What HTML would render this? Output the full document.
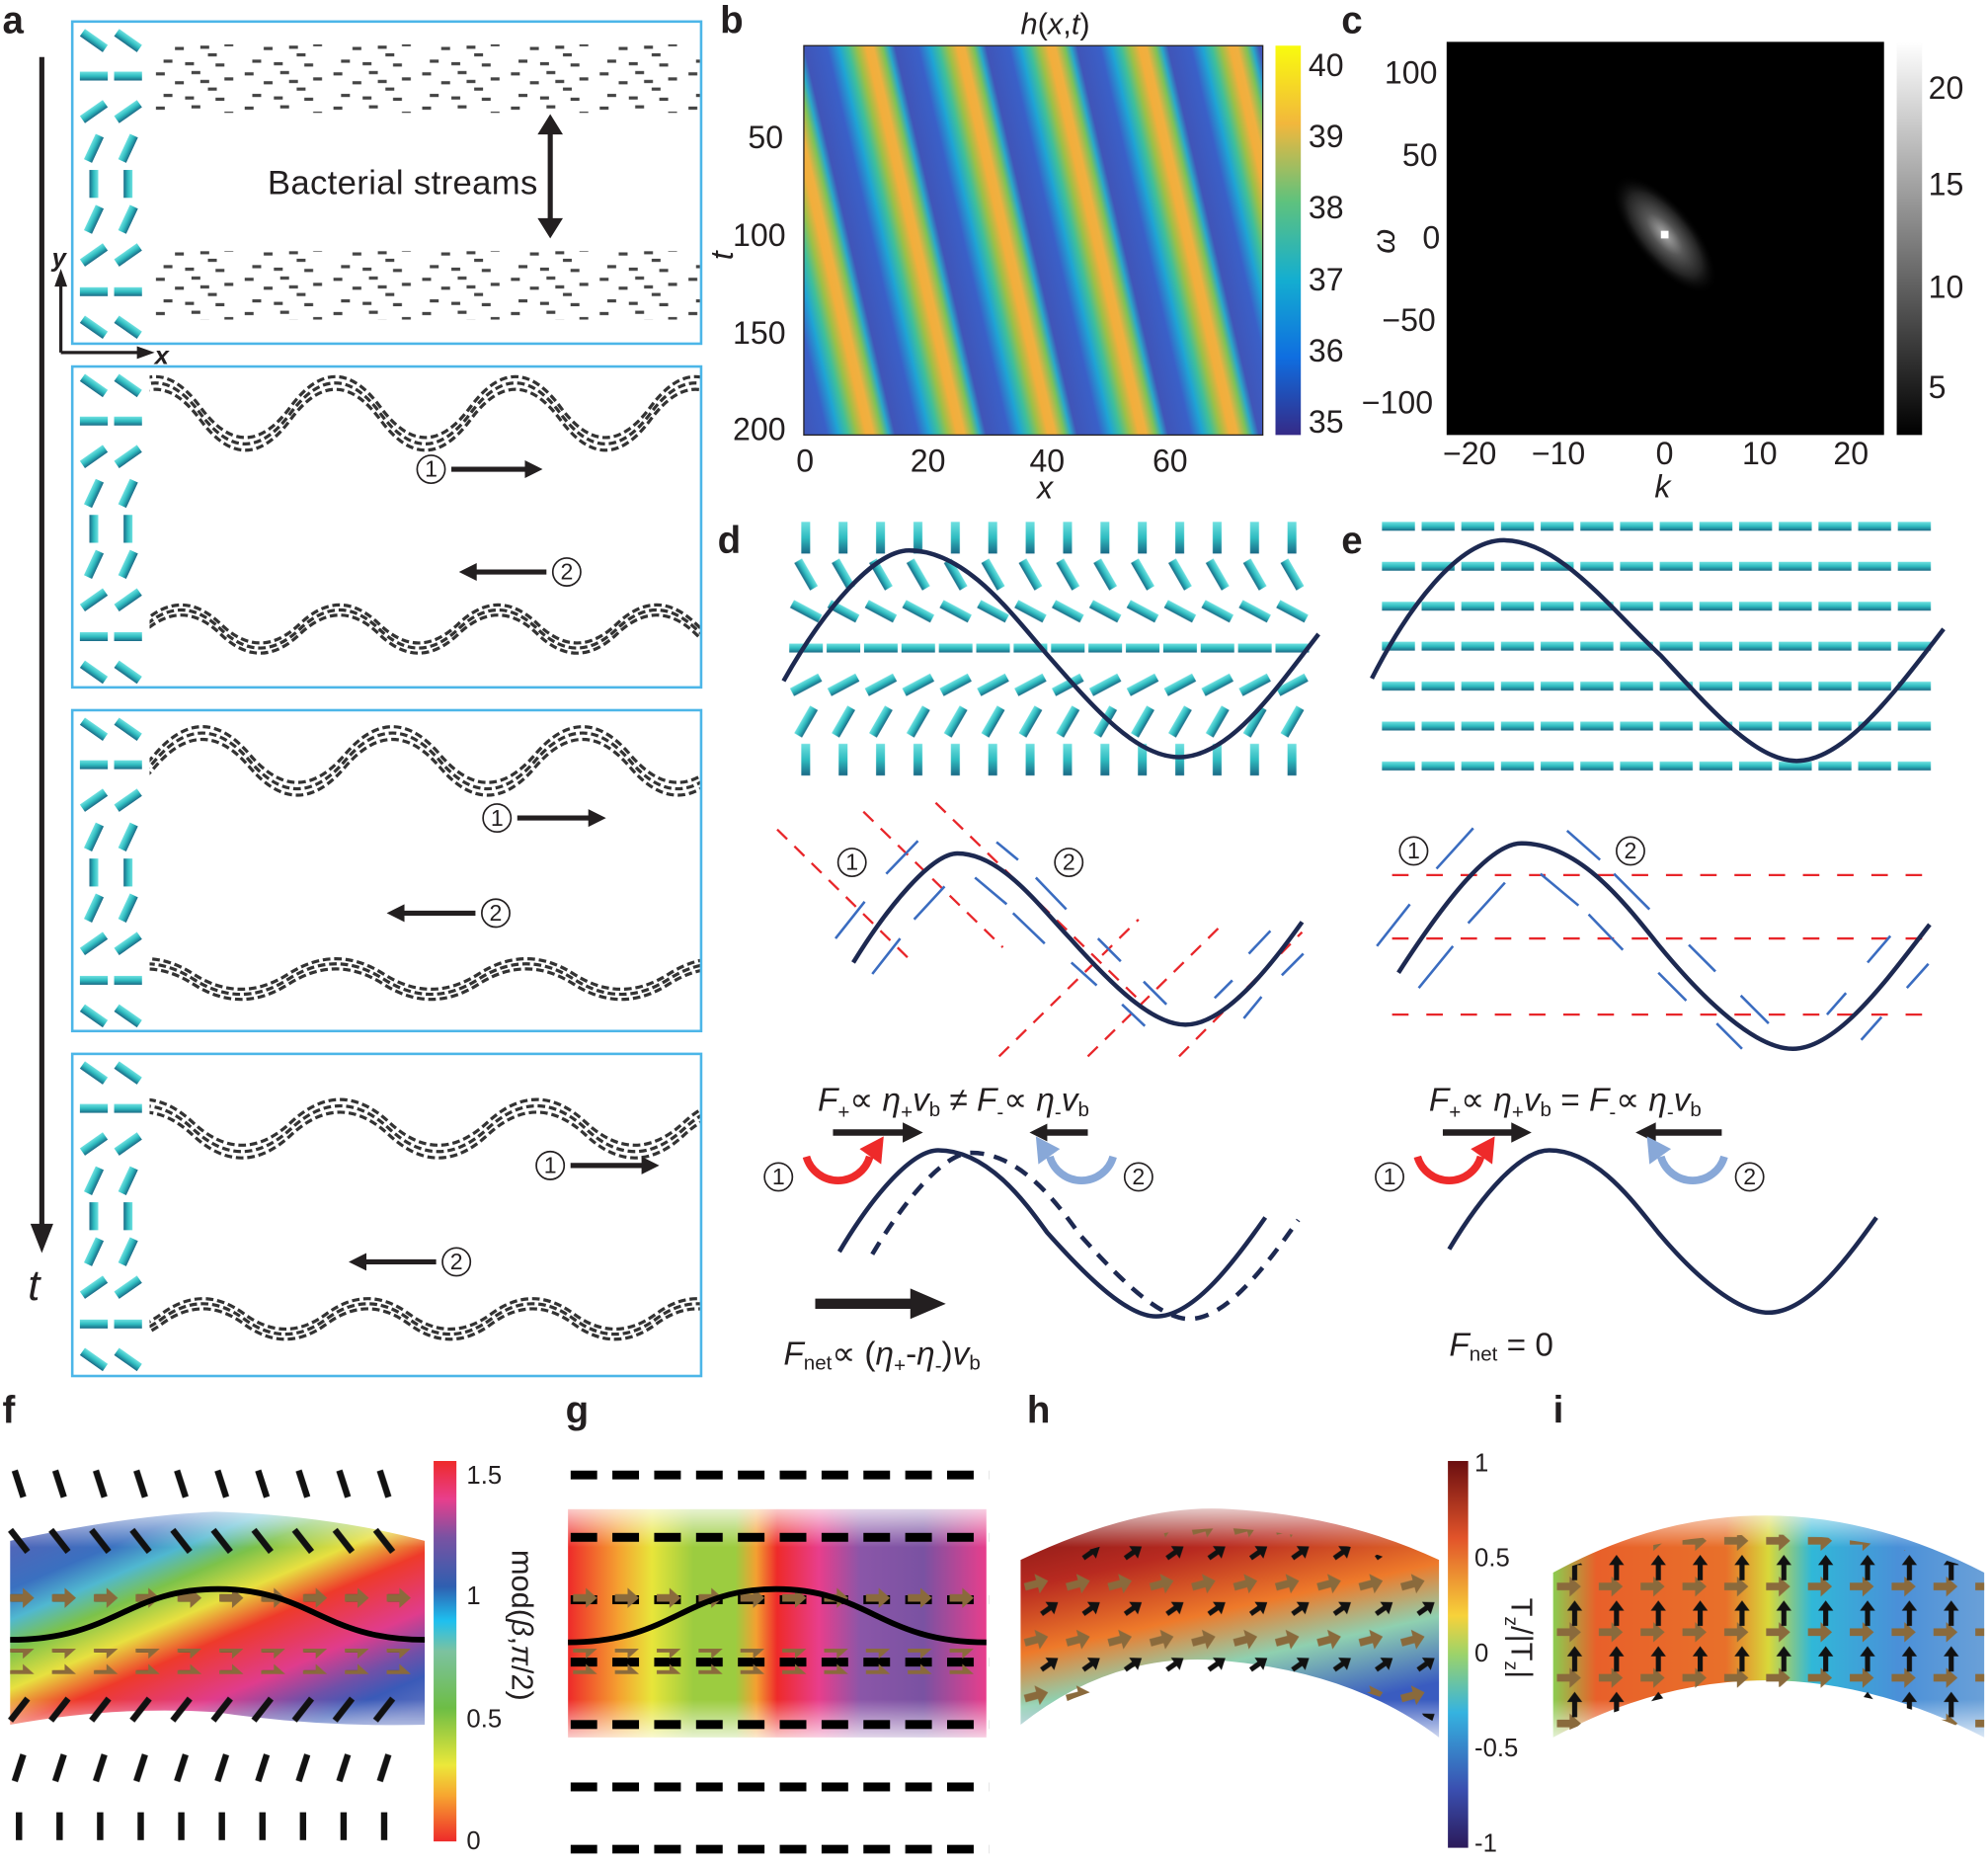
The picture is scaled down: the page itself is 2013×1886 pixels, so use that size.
<!DOCTYPE html>
<html><head><meta charset="utf-8"><style>
html,body{margin:0;padding:0;background:#fff;}
svg{display:block;font-family:"Liberation Sans",sans-serif;}
</style></head><body>
<svg xmlns="http://www.w3.org/2000/svg" width="2013" height="1886" viewBox="0 0 1568 1469" preserveAspectRatio="none">
<defs>
<linearGradient id="hb" gradientUnits="userSpaceOnUse" x1="634" y1="36" x2="702" y2="20" spreadMethod="repeat">
<stop offset="0" stop-color="#4055b8"/><stop offset="0.25" stop-color="#3a60c8"/><stop offset="0.38" stop-color="#1fa4d4"/><stop offset="0.48" stop-color="#3fbf9a"/><stop offset="0.58" stop-color="#9cc048"/><stop offset="0.68" stop-color="#f2ae3c"/><stop offset="0.76" stop-color="#f0b040"/><stop offset="0.86" stop-color="#7ec258"/><stop offset="0.93" stop-color="#2aa8c8"/><stop offset="1" stop-color="#4055b8"/>
</linearGradient>
<linearGradient id="parula" x1="0" y1="1" x2="0" y2="0"><stop offset="0" stop-color="#352a87"/><stop offset="0.2" stop-color="#0f6ee0"/><stop offset="0.4" stop-color="#14aed0"/><stop offset="0.6" stop-color="#5fc27d"/><stop offset="0.8" stop-color="#f2b73c"/><stop offset="1" stop-color="#f9fb0e"/></linearGradient>
<linearGradient id="gray" x1="0" y1="1" x2="0" y2="0"><stop offset="0" stop-color="#000"/><stop offset="1" stop-color="#fff"/></linearGradient>
<linearGradient id="rain" x1="0" y1="1" x2="0" y2="0"><stop offset="0" stop-color="#ee2a2a"/><stop offset="0.12" stop-color="#f7a530"/><stop offset="0.2" stop-color="#ece83a"/><stop offset="0.35" stop-color="#6dbd45"/><stop offset="0.5" stop-color="#7cc2a0"/><stop offset="0.58" stop-color="#1ec0ef"/><stop offset="0.67" stop-color="#2f5fb0"/><stop offset="0.8" stop-color="#7a52a2"/><stop offset="0.9" stop-color="#e83e8c"/><stop offset="1" stop-color="#ee2a2a"/></linearGradient>
<linearGradient id="div" x1="0" y1="1" x2="0" y2="0"><stop offset="0" stop-color="#2b1a5a"/><stop offset="0.15" stop-color="#3a4fb0"/><stop offset="0.35" stop-color="#35b3e0"/><stop offset="0.5" stop-color="#9cd36a"/><stop offset="0.6" stop-color="#f7d23a"/><stop offset="0.8" stop-color="#e2542a"/><stop offset="1" stop-color="#6a0e10"/></linearGradient>
<linearGradient id="gband" x1="0" y1="0" x2="1" y2="0"><stop offset="0" stop-color="#ee2a2a"/><stop offset="0.12" stop-color="#f5a030"/><stop offset="0.2" stop-color="#e8e53a"/><stop offset="0.3" stop-color="#9ccc40"/><stop offset="0.4" stop-color="#9ccc40"/><stop offset="0.45" stop-color="#f3a031"/><stop offset="0.5" stop-color="#ee2a2a"/><stop offset="0.6" stop-color="#e83e8c"/><stop offset="0.7" stop-color="#8a56a8"/><stop offset="0.85" stop-color="#7a52a2"/><stop offset="1" stop-color="#e83e8c"/></linearGradient>
<linearGradient id="fband" gradientUnits="userSpaceOnUse" x1="8" y1="1180" x2="117" y2="1438"><stop offset="0" stop-color="#6a5ab0"/><stop offset="0.24" stop-color="#3a70c0"/><stop offset="0.32" stop-color="#50b8d0"/><stop offset="0.4" stop-color="#7cc24a"/><stop offset="0.5" stop-color="#e8e040"/><stop offset="0.6" stop-color="#ee3a2a"/><stop offset="0.75" stop-color="#e03c8c"/><stop offset="0.85" stop-color="#7050a8"/><stop offset="0.92" stop-color="#3a5ab8"/><stop offset="1" stop-color="#5a70c0"/></linearGradient>
<linearGradient id="hband" x1="0" y1="0" x2="0.4" y2="1"><stop offset="0" stop-color="#7a1414"/><stop offset="0.3" stop-color="#b82a20"/><stop offset="0.55" stop-color="#ee7a2a"/><stop offset="0.75" stop-color="#8fd0b0"/><stop offset="1" stop-color="#3a5cc0"/></linearGradient>
<linearGradient id="iband" x1="0" y1="0" x2="1" y2="0"><stop offset="0" stop-color="#8ccc50"/><stop offset="0.1" stop-color="#e8602a"/><stop offset="0.4" stop-color="#e8702a"/><stop offset="0.5" stop-color="#d8d83a"/><stop offset="0.6" stop-color="#30b8d8"/><stop offset="0.8" stop-color="#4a90d8"/><stop offset="1" stop-color="#6aa0d8"/></linearGradient>
<linearGradient id="fadeV" x1="0" y1="0" x2="0" y2="1"><stop offset="0" stop-color="#fff" stop-opacity="0"/><stop offset="0.2" stop-color="#fff"/><stop offset="0.8" stop-color="#fff"/><stop offset="1" stop-color="#fff" stop-opacity="0"/></linearGradient>
<mask id="mk"><rect x="0" y="1180" width="1568" height="200" fill="url(#fadeV)"/></mask>
<radialGradient id="blob"><stop offset="0" stop-color="#aaa"/><stop offset="0.35" stop-color="#555"/><stop offset="0.7" stop-color="#222"/><stop offset="1" stop-color="#000" stop-opacity="0"/></radialGradient>
<linearGradient id="rodg" x1="0" y1="0" x2="0" y2="1"><stop offset="0" stop-color="#6ee0e0"/><stop offset="0.5" stop-color="#2fbcc0"/><stop offset="1" stop-color="#1a6a86"/></linearGradient>
<clipPath id="abox"><rect x="118" y="0" width="434" height="1469"/></clipPath>
<pattern id="scat" x="120" y="0" width="70" height="27" patternUnits="userSpaceOnUse">
<g fill="#444"><rect x="3" y="3" width="7" height="2.5"/><rect x="18" y="10" width="7" height="2.5"/><rect x="31" y="2" width="7" height="2.5"/><rect x="44" y="15" width="7" height="2.5"/><rect x="57" y="7" width="7" height="2.5"/><rect x="9" y="20" width="7" height="2.5"/><rect x="26" y="22" width="7" height="2.5"/><rect x="50" y="23" width="7" height="2.5"/><rect x="38" y="9" width="7" height="2.5"/></g>
</pattern>
<pattern id="pd0" x="621" y="409" width="29.5" height="30" patternUnits="userSpaceOnUse"><rect x="11" y="2.5" width="7" height="25" fill="url(#rodg)"/></pattern>
<pattern id="pd1" x="621" y="438" width="29.5" height="30" patternUnits="userSpaceOnUse"><rect x="2.25" y="11.5" width="25" height="7" fill="url(#rodg)" transform="rotate(60 14.75 15)"/></pattern>
<pattern id="pd2" x="621" y="467" width="29.5" height="30" patternUnits="userSpaceOnUse"><rect x="2.25" y="11.5" width="25" height="7" fill="url(#rodg)" transform="rotate(28 14.75 15)"/></pattern>
<pattern id="pd3" x="621" y="496" width="29.5" height="30" patternUnits="userSpaceOnUse"><rect x="1.5" y="11.5" width="26.5" height="7" fill="url(#rodg)"/></pattern>
<pattern id="pd4" x="621" y="525" width="29.5" height="30" patternUnits="userSpaceOnUse"><rect x="2.25" y="11.5" width="25" height="7" fill="url(#rodg)" transform="rotate(-28 14.75 15)"/></pattern>
<pattern id="pd5" x="621" y="554" width="29.5" height="30" patternUnits="userSpaceOnUse"><rect x="2.25" y="11.5" width="25" height="7" fill="url(#rodg)" transform="rotate(-60 14.75 15)"/></pattern>
<pattern id="pd6" x="621" y="584" width="29.5" height="30" patternUnits="userSpaceOnUse"><rect x="11" y="2.5" width="7" height="25" fill="url(#rodg)"/></pattern>
<pattern id="pe" x="1088" y="399.25" width="31.3" height="31.5" patternUnits="userSpaceOnUse"><rect x="2" y="12.25" width="26" height="7" fill="url(#rodg)"/></pattern>
<pattern id="pf0" x="-1" y="1156" width="32" height="28" patternUnits="userSpaceOnUse"><rect x="5" y="11.5" width="22" height="5" fill="#111" transform="rotate(72 16 14)"/></pattern>
<pattern id="pf1" x="-1" y="1201" width="32" height="28" patternUnits="userSpaceOnUse"><rect x="5" y="11.5" width="22" height="5" fill="#111" transform="rotate(52 16 14)"/></pattern>
<pattern id="pf2" x="-1" y="1334" width="32" height="28" patternUnits="userSpaceOnUse"><rect x="5" y="11.5" width="22" height="5" fill="#111" transform="rotate(-52 16 14)"/></pattern>
<pattern id="pf3" x="-1" y="1380" width="32" height="28" patternUnits="userSpaceOnUse"><rect x="5" y="11.5" width="22" height="5" fill="#111" transform="rotate(-72 16 14)"/></pattern>
<pattern id="pf4" x="-1" y="1426" width="32" height="28" patternUnits="userSpaceOnUse"><rect x="5" y="11.5" width="22" height="5" fill="#111" transform="rotate(90 16 14)"/></pattern>
<pattern id="pg" x="450" y="1159.5" width="33" height="49.2" patternUnits="userSpaceOnUse"><rect x="0" y="0" width="21" height="7" fill="#000"/></pattern>
<pattern id="pbr" x="6" y="1250" width="33" height="20" patternUnits="userSpaceOnUse"><rect x="3" y="7" width="14" height="6" fill="#111"/><path d="M2,7 h10 v-5 l9,8 l-9,8 v-5 h-10z" fill="#8a6a3c"/></pattern>
<pattern id="pgbr" x="450" y="1250" width="33" height="20" patternUnits="userSpaceOnUse"><path d="M2,7 h10 v-5 l9,8 l-9,8 v-5 h-10z" fill="#8a6a3c"/></pattern>
<pattern id="ph" x="806" y="1190" width="33" height="44" patternUnits="userSpaceOnUse"><path d="M2,12 h10 v-5 l9,8 l-9,8 v-5 h-10z" fill="#8a6a3c" transform="rotate(-15 11 15)"/><path d="M14,32 h8 v-4 l8,6 l-8,6 v-4 h-8z" fill="#111" transform="rotate(-35 22 34)"/></pattern>
<pattern id="pi" x="1226" y="1190" width="33" height="36" patternUnits="userSpaceOnUse"><path d="M2,22 h10 v-5 l9,8 l-9,8 v-5 h-10z" fill="#8a6a3c"/><path d="M14,20 v-12 h-4 l6,-8 l6,8 h-4 v12z" fill="#111"/></pattern>
<g id="arods" fill="url(#rodg)">
<rect x="63" y="11.5" width="22" height="7" transform="rotate(35 74 15)"/><rect x="90" y="11.5" width="22" height="7" transform="rotate(35 101 15)"/>
<rect x="63" y="39.5" width="22" height="7"/><rect x="90" y="39.5" width="22" height="7"/>
<rect x="63" y="67.5" width="22" height="7" transform="rotate(-35 74 71)"/><rect x="90" y="67.5" width="22" height="7" transform="rotate(-35 101 71)"/>
<rect x="63" y="96.5" width="22" height="7" transform="rotate(-65 74 100)"/><rect x="90" y="96.5" width="22" height="7" transform="rotate(-65 101 100)"/>
<rect x="63" y="124.5" width="22" height="7" transform="rotate(90 74 128)"/><rect x="90" y="124.5" width="22" height="7" transform="rotate(90 101 128)"/>
<rect x="63" y="152.5" width="22" height="7" transform="rotate(-65 74 156)"/><rect x="90" y="152.5" width="22" height="7" transform="rotate(-65 101 156)"/>
<rect x="63" y="180.5" width="22" height="7" transform="rotate(-35 74 184)"/><rect x="90" y="180.5" width="22" height="7" transform="rotate(-35 101 184)"/>
<rect x="63" y="209.5" width="22" height="7"/><rect x="90" y="209.5" width="22" height="7"/>
<rect x="63" y="237.5" width="22" height="7" transform="rotate(35 74 241)"/><rect x="90" y="237.5" width="22" height="7" transform="rotate(35 101 241)"/>
</g>
<path id="w1" d="M87,326 Q122.5,278 158,326 T229,326 T300,326 T371,326 T442,326 T513,326 T584,326"/>
<path id="w2" d="M49,496 Q80,526 111.5,496 T174,496 T236.5,496 T299,496 T361.5,496 T424,496 T486.5,496 T549,496 T611.5,496"/>
<path id="w3" d="M47,600 Q84.5,644 122,600 T197,600 T272,600 T347,600 T422,600 T497,600 T572,600"/>
<path id="w4" d="M77.5,772 Q115,748 152.5,772 T227.5,772 T302.5,772 T377.5,772 T452.5,772 T527.5,772 T602.5,772"/>
<path id="w5" d="M-3,890 Q35.75,926 74.5,890 T152,890 T229.5,890 T307,890 T384.5,890 T462,890 T539.5,890 T617,890"/>
<path id="w6" d="M62.5,1040 Q95,1064 127.5,1040 T192.5,1040 T257.5,1040 T322.5,1040 T387.5,1040 T452.5,1040 T517.5,1040 T582.5,1040"/>
</defs>
<g fill="#231f20">
<g font-weight="bold" font-size="30">
<text x="2" y="26">a</text><text x="568" y="26">b</text><text x="1058" y="26">c</text>
<text x="566" y="436">d</text><text x="1058" y="436">e</text>
<text x="2" y="1122">f</text><text x="446" y="1122">g</text><text x="810" y="1122">h</text><text x="1225" y="1122">i</text>
</g>
<use href="#arods" transform="translate(0,17)"/><use href="#arods" transform="translate(0,289)"/><use href="#arods" transform="translate(0,560)"/><use href="#arods" transform="translate(0,831)"/>
<g fill="none" stroke="#4cb6e8" stroke-width="2">
<rect x="57" y="17" width="496" height="254"/><rect x="57" y="289" width="496" height="253"/><rect x="57" y="560" width="496" height="253"/><rect x="57" y="831" width="496" height="254"/>
</g>
<rect x="120" y="35" width="432" height="54" fill="url(#scat)"/>
<rect x="120" y="198" width="432" height="54" fill="url(#scat)"/>
<g clip-path="url(#abox)" fill="none" stroke="#333" stroke-width="2.5" stroke-dasharray="6 3">
<use href="#w1" transform="translate(0,-5)"/><use href="#w1" stroke-dashoffset="4"/><use href="#w1" transform="translate(0,5)" stroke-dashoffset="2"/>
<use href="#w2" transform="translate(0,-4)"/><use href="#w2" stroke-dashoffset="4"/><use href="#w2" transform="translate(0,4)" stroke-dashoffset="2"/>
<use href="#w3" transform="translate(0,-5)"/><use href="#w3" stroke-dashoffset="4"/><use href="#w3" transform="translate(0,5)" stroke-dashoffset="2"/>
<use href="#w4" transform="translate(0,-4)"/><use href="#w4" stroke-dashoffset="4"/><use href="#w4" transform="translate(0,4)" stroke-dashoffset="2"/>
<use href="#w5" transform="translate(0,-5)"/><use href="#w5" stroke-dashoffset="4"/><use href="#w5" transform="translate(0,5)" stroke-dashoffset="2"/>
<use href="#w6" transform="translate(0,-4)"/><use href="#w6" stroke-dashoffset="4"/><use href="#w6" transform="translate(0,4)" stroke-dashoffset="2"/>
</g>
<line x1="33" y1="45" x2="33" y2="970" stroke="#231f20" stroke-width="4"/>
<path d="M24,965 L33,988 L42,965z"/>
<text x="22" y="1025" font-size="34" font-style="italic">t</text>
<path d="M48,278 L48,222 M48,278 L112,278" stroke="#231f20" stroke-width="2.5" fill="none"/>
<path d="M43,226 L48,212 L53,226z M108,273 L122,278 L108,283z"/>
<text x="41" y="210" font-size="20" font-style="italic" font-weight="bold">y</text>
<text x="122" y="287" font-size="20" font-style="italic" font-weight="bold">x</text>
<text x="211" y="153" font-size="27" textLength="213">Bacterial streams</text>
<path d="M434,102 L434,176" stroke="#231f20" stroke-width="4"/><path d="M424,106 L434,90 L444,106z M424,172 L434,188 L444,172z"/>
<g fill="none" stroke="#231f20" stroke-width="1.3">
<circle cx="340" cy="370" r="11"/><circle cx="447" cy="451" r="11"/><circle cx="392" cy="645" r="11"/><circle cx="391" cy="720" r="11"/><circle cx="434" cy="919" r="11"/><circle cx="360" cy="995" r="11"/>
<circle cx="672" cy="680" r="11"/><circle cx="843" cy="680" r="11"/><circle cx="1115" cy="671" r="11"/><circle cx="1286" cy="671" r="11"/>
<circle cx="614" cy="928" r="11"/><circle cx="898" cy="928" r="11"/><circle cx="1096" cy="928" r="11"/><circle cx="1380" cy="928" r="11"/>
</g>
<g font-size="18">
<text x="335" y="376">1</text><text x="442" y="457">2</text><text x="387" y="651">1</text><text x="386" y="726">2</text><text x="429" y="925">1</text><text x="355" y="1001">2</text>
<text x="667" y="686">1</text><text x="838" y="686">2</text><text x="1110" y="677">1</text><text x="1281" y="677">2</text>
<text x="609" y="934">1</text><text x="893" y="934">2</text><text x="1091" y="934">1</text><text x="1375" y="934">2</text>
</g>
<g stroke="#231f20" stroke-width="4">
<line x1="356" y1="370" x2="416" y2="370"/><line x1="431" y1="451" x2="374" y2="451"/>
<line x1="408" y1="645" x2="466" y2="645"/><line x1="375" y1="720" x2="317" y2="720"/>
<line x1="450" y1="919" x2="508" y2="919"/><line x1="344" y1="995" x2="287" y2="995"/>
</g>
<path d="M414,363 L428,370 L414,377z M376,444 L362,451 L376,458z M464,638 L478,645 L464,652z M319,713 L305,720 L319,727z M506,912 L520,919 L506,926z M289,988 L275,995 L289,1002z"/>
<text x="805" y="27" font-size="24"><tspan font-style="italic">h</tspan>(<tspan font-style="italic">x</tspan>,<tspan font-style="italic">t</tspan>)</text>
<rect x="634" y="36" width="362" height="307" fill="url(#hb)"/>
<rect x="634" y="36" width="362" height="307" fill="none" stroke="#231f20" stroke-width="1"/>
<rect x="1006" y="36" width="20" height="307" fill="url(#parula)"/>
<g font-size="25">
<text x="590" y="117">50</text><text x="578" y="194">100</text><text x="578" y="271">150</text><text x="578" y="347">200</text>
<text x="628" y="372">0</text><text x="718" y="372">20</text><text x="812" y="372">40</text><text x="909" y="372">60</text>
<text x="818" y="393" font-style="italic">x</text>
<text transform="translate(578,205) rotate(-90)" font-style="italic">t</text>
<text x="1032" y="60">40</text><text x="1032" y="116">39</text><text x="1032" y="172">38</text><text x="1032" y="229">37</text><text x="1032" y="285">36</text><text x="1032" y="341">35</text>
</g>
<rect x="1141" y="33" width="345" height="310" fill="#000"/>
<ellipse cx="1313" cy="185" rx="58" ry="24" fill="url(#blob)" transform="rotate(50 1313 185)"/>
<rect x="1310" y="182" width="6" height="6" fill="#fff"/>
<rect x="1496" y="33" width="20" height="310" fill="url(#gray)"/>
<g font-size="25">
<text x="1092" y="66">100</text><text x="1106" y="131">50</text><text x="1122" y="196">0</text><text x="1090" y="261">−50</text><text x="1074" y="326">−100</text>
<text x="1138" y="366">−20</text><text x="1208" y="366">−10</text><text x="1306" y="366">0</text><text x="1374" y="366">10</text><text x="1446" y="366">20</text>
<text x="1305" y="392" font-style="italic">k</text>
<text transform="translate(1100,200) rotate(-90)" font-style="italic">ω</text>
<text x="1521" y="78">20</text><text x="1521" y="154">15</text><text x="1521" y="235">10</text><text x="1521" y="314">5</text>
</g>
<rect x="621" y="409" width="413" height="30" fill="url(#pd0)"/>
<rect x="621" y="438" width="413" height="30" fill="url(#pd1)"/>
<rect x="621" y="467" width="413" height="30" fill="url(#pd2)"/>
<rect x="621" y="496" width="413" height="30" fill="url(#pd3)"/>
<rect x="621" y="525" width="413" height="30" fill="url(#pd4)"/>
<rect x="621" y="554" width="413" height="30" fill="url(#pd5)"/>
<rect x="621" y="584" width="413" height="30" fill="url(#pd6)"/>
<path d="M618,537 C650,480 690,434 717,434 C760,434 795,480 824,514 C860,555 895,597 930,597 C970,597 1005,545 1040,500" fill="none" stroke="#1d2951" stroke-width="3.5"/>
<rect x="1088" y="399.25" width="438" height="220.5" fill="url(#pe)"/>
<path d="M1082,535 C1110,480 1150,426 1186,426 C1230,426 1270,480 1310,517 C1350,560 1385,600 1417,600 C1455,600 1495,545 1533,496" fill="none" stroke="#1d2951" stroke-width="3.5"/>
<g stroke="#e8262a" stroke-width="1.8" stroke-dasharray="11 8">
<line x1="613" y1="654" x2="721" y2="760"/><line x1="681" y1="640" x2="791" y2="747"/><line x1="738" y1="633" x2="900" y2="790"/>
<line x1="788" y1="833" x2="898" y2="725"/><line x1="858" y1="833" x2="965" y2="728"/><line x1="930" y1="833" x2="1027" y2="735"/>
</g>
<g stroke="#3a6cc0" stroke-width="2">
<line x1="699" y1="689" x2="724" y2="663"/><line x1="721" y1="725" x2="745" y2="699"/><line x1="659" y1="740" x2="682" y2="711"/><line x1="688" y1="768" x2="710" y2="740"/>
<line x1="769" y1="692" x2="794" y2="713"/><line x1="786" y1="664" x2="803" y2="678"/><line x1="817" y1="692" x2="841" y2="717"/><line x1="799" y1="720" x2="824" y2="744"/>
<line x1="866" y1="740" x2="884" y2="758"/><line x1="845" y1="759" x2="865" y2="777"/><line x1="902" y1="774" x2="920" y2="792"/><line x1="885" y1="792" x2="903" y2="809"/>
<line x1="985" y1="752" x2="1002" y2="734"/><line x1="958" y1="787" x2="972" y2="773"/><line x1="981" y1="803" x2="995" y2="786"/><line x1="1011" y1="769" x2="1028" y2="752"/>
</g>
<path d="M673,759 C700,715 735,673 755,673 C790,673 820,715 845,741 C880,780 910,808 935,808 C965,808 1000,765 1027,727" fill="none" stroke="#1d2951" stroke-width="3.5"/>
<g stroke="#e8262a" stroke-width="1.8" stroke-dasharray="13 14">
<line x1="1098" y1="690" x2="1528" y2="690"/><line x1="1098" y1="740" x2="1528" y2="740"/><line x1="1098" y1="800" x2="1528" y2="800"/>
</g>
<g stroke="#3a6cc0" stroke-width="2">
<line x1="1133" y1="685" x2="1162" y2="653"/><line x1="1086" y1="746" x2="1112" y2="713"/><line x1="1158" y1="728" x2="1187" y2="696"/><line x1="1119" y1="779" x2="1146" y2="746"/>
<line x1="1236" y1="655" x2="1262" y2="678"/><line x1="1215" y1="689" x2="1245" y2="714"/><line x1="1273" y1="689" x2="1301" y2="717"/><line x1="1253" y1="721" x2="1280" y2="749"/>
<line x1="1332" y1="745" x2="1353" y2="766"/><line x1="1308" y1="767" x2="1330" y2="789"/><line x1="1373" y1="785" x2="1395" y2="807"/><line x1="1354" y1="807" x2="1374" y2="827"/>
<line x1="1473" y1="759" x2="1491" y2="738"/><line x1="1441" y1="800" x2="1456" y2="783"/><line x1="1504" y1="779" x2="1521" y2="760"/><line x1="1468" y1="820" x2="1484" y2="802"/>
</g>
<path d="M1103,767 C1140,710 1175,665 1200,665 C1245,665 1280,710 1308,745 C1345,790 1385,827 1414,827 C1450,827 1490,770 1522,729" fill="none" stroke="#1d2951" stroke-width="3.5"/>
<path d="M662,987 C690,940 720,907 740,907 C780,907 810,950 826,972 C860,1010 890,1038 912,1038 C940,1038 970,1000 998,960" fill="none" stroke="#1d2951" stroke-width="3.5"/>
<path d="M662,987 C690,940 720,907 740,907 C780,907 810,950 826,972 C860,1010 890,1038 912,1038 C940,1038 970,1000 998,960" fill="none" stroke="#1d2951" stroke-width="3.5" stroke-dasharray="11 8" transform="translate(26,2)"/>
<g stroke="#231f20"><line x1="657" y1="893" x2="713" y2="893" stroke-width="5"/><line x1="858" y1="893" x2="825" y2="893" stroke-width="5"/><line x1="643" y1="1028" x2="720" y2="1028" stroke-width="8"/>
<line x1="1138" y1="893" x2="1193" y2="893" stroke-width="5"/><line x1="1358" y1="893" x2="1305" y2="893" stroke-width="5"/></g>
<path d="M712,885 L728,893 L712,901z M826,886 L812,893 L826,900z M718,1016 L746,1028 L718,1040z M1192,885 L1208,893 L1192,901z M1306,885 L1290,893 L1306,901z"/>
<path d="M636,912 A26,26 0 0 0 686,912" fill="none" stroke="#ee2a2a" stroke-width="6"/><path d="M678,906 L697,896 L695,918z" fill="#ee2a2a"/>
<path d="M878,912 A26,26 0 0 1 828,912" fill="none" stroke="#88a8d8" stroke-width="6"/><path d="M836,906 L817,896 L819,918z" fill="#88a8d8"/>
<path d="M1118,912 A26,26 0 0 0 1168,912" fill="none" stroke="#ee2a2a" stroke-width="6"/><path d="M1160,906 L1179,896 L1177,918z" fill="#ee2a2a"/>
<path d="M1360,912 A26,26 0 0 1 1310,912" fill="none" stroke="#88a8d8" stroke-width="6"/><path d="M1318,906 L1299,896 L1301,918z" fill="#88a8d8"/>
<path d="M1143,985 C1170,940 1200,907 1222,907 C1260,907 1290,950 1308,972 C1340,1010 1372,1035 1395,1035 C1425,1035 1455,995 1480,960" fill="none" stroke="#1d2951" stroke-width="3.5"/>
<g font-size="26">
<text x="645" y="876"><tspan font-style="italic">F</tspan><tspan font-size="16" dy="6">+</tspan><tspan dy="-6">∝ </tspan><tspan font-style="italic">η</tspan><tspan font-size="16" dy="6">+</tspan><tspan dy="-6" font-style="italic">v</tspan><tspan font-size="16" dy="4">b</tspan><tspan dy="-4"> ≠ </tspan><tspan font-style="italic">F</tspan><tspan font-size="16" dy="6">-</tspan><tspan dy="-6">∝ </tspan><tspan font-style="italic">η</tspan><tspan font-size="16" dy="6">-</tspan><tspan dy="-6" font-style="italic">v</tspan><tspan font-size="16" dy="4">b</tspan></text>
<text x="1127" y="876"><tspan font-style="italic">F</tspan><tspan font-size="16" dy="6">+</tspan><tspan dy="-6">∝ </tspan><tspan font-style="italic">η</tspan><tspan font-size="16" dy="6">+</tspan><tspan dy="-6" font-style="italic">v</tspan><tspan font-size="16" dy="4">b</tspan><tspan dy="-4"> = </tspan><tspan font-style="italic">F</tspan><tspan font-size="16" dy="6">-</tspan><tspan dy="-6">∝ </tspan><tspan font-style="italic">η</tspan><tspan font-size="16" dy="6">-</tspan><tspan dy="-6" font-style="italic">v</tspan><tspan font-size="16" dy="4">b</tspan></text>
<text x="618" y="1076"><tspan font-style="italic">F</tspan><tspan font-size="16" dy="4">net</tspan><tspan dy="-4">∝ (</tspan><tspan font-style="italic">η</tspan><tspan font-size="16" dy="6">+</tspan><tspan dy="-6">-</tspan><tspan font-style="italic">η</tspan><tspan font-size="16" dy="6">-</tspan><tspan dy="-6">)</tspan><tspan font-style="italic">v</tspan><tspan font-size="16" dy="4">b</tspan></text>
<text x="1143" y="1069"><tspan font-style="italic">F</tspan><tspan font-size="16" dy="4">net</tspan><tspan dy="-4"> = 0</tspan></text>
</g>
<rect x="342" y="1152" width="18" height="300" fill="url(#rain)"/>
<g font-size="20"><text x="368" y="1170">1.5</text><text x="368" y="1265">1</text><text x="368" y="1362">0.5</text><text x="368" y="1458">0</text>
<text transform="translate(404,1222) rotate(90)" font-size="24">mod(<tspan font-style="italic">β</tspan>,<tspan font-style="italic">π</tspan>/2)</text></g>
<rect x="1142" y="1152" width="16" height="305" fill="url(#div)"/>
<g font-size="20"><text x="1163" y="1160">1</text><text x="1163" y="1235">0.5</text><text x="1163" y="1310">0</text><text x="1163" y="1385">-0.5</text><text x="1163" y="1460">-1</text>
<text transform="translate(1192,1260) rotate(90)" font-size="24">T<tspan font-size="15" dy="5">z</tspan><tspan dy="-5">/|T</tspan><tspan font-size="15" dy="5">z</tspan><tspan dy="-5">|</tspan></text></g>
<g mask="url(#mk)">
<path d="M8,1215 Q100,1195 170,1192 Q260,1195 335,1215 L335,1360 Q250,1362 170,1350 Q90,1345 8,1360 Z" fill="url(#fband)"/>
<rect x="448" y="1190" width="330" height="180" fill="url(#gband)"/>
<path d="M805,1230 Q900,1185 970,1190 Q1060,1195 1135,1230 L1135,1370 Q1070,1320 970,1310 Q880,1300 805,1360 Z" fill="url(#hband)"/>
<path d="M1225,1240 Q1390,1150 1565,1240 L1565,1370 Q1390,1280 1225,1370 Z" fill="url(#iband)"/>
</g>
<rect x="0" y="1156" width="320" height="28" fill="url(#pf0)"/>
<rect x="0" y="1201" width="320" height="28" fill="url(#pf1)"/>
<rect x="0" y="1334" width="320" height="28" fill="url(#pf2)"/>
<rect x="0" y="1380" width="320" height="28" fill="url(#pf3)"/>
<rect x="0" y="1426" width="320" height="28" fill="url(#pf4)"/>
<rect x="6" y="1250" width="330" height="20" fill="url(#pbr)"/>
<rect x="6" y="1300" width="330" height="20" fill="url(#pbr)"/>
<path d="M8,1293 C90,1293 100,1253 172,1253 C245,1253 255,1293 335,1293" fill="none" stroke="#000" stroke-width="4.5"/>
<rect x="450" y="1159.5" width="330" height="302" fill="url(#pg)"/>
<rect x="450" y="1250" width="330" height="20" fill="url(#pgbr)"/>
<rect x="450" y="1300" width="330" height="20" fill="url(#pgbr)"/>
<path d="M448,1295 C530,1295 540,1253 612,1253 C685,1253 695,1295 778,1295" fill="none" stroke="#000" stroke-width="4.5"/>
<path d="M820,1235 Q900,1205 970,1205 Q1060,1210 1135,1245 L1135,1360 Q1070,1320 970,1320 Q880,1315 805,1360 L805,1250 Z" fill="url(#ph)"/>
<path d="M1225,1240 Q1390,1180 1565,1240 L1565,1370 Q1390,1290 1225,1370 Z" fill="url(#pi)"/>
</g>
</svg>
</body></html>
